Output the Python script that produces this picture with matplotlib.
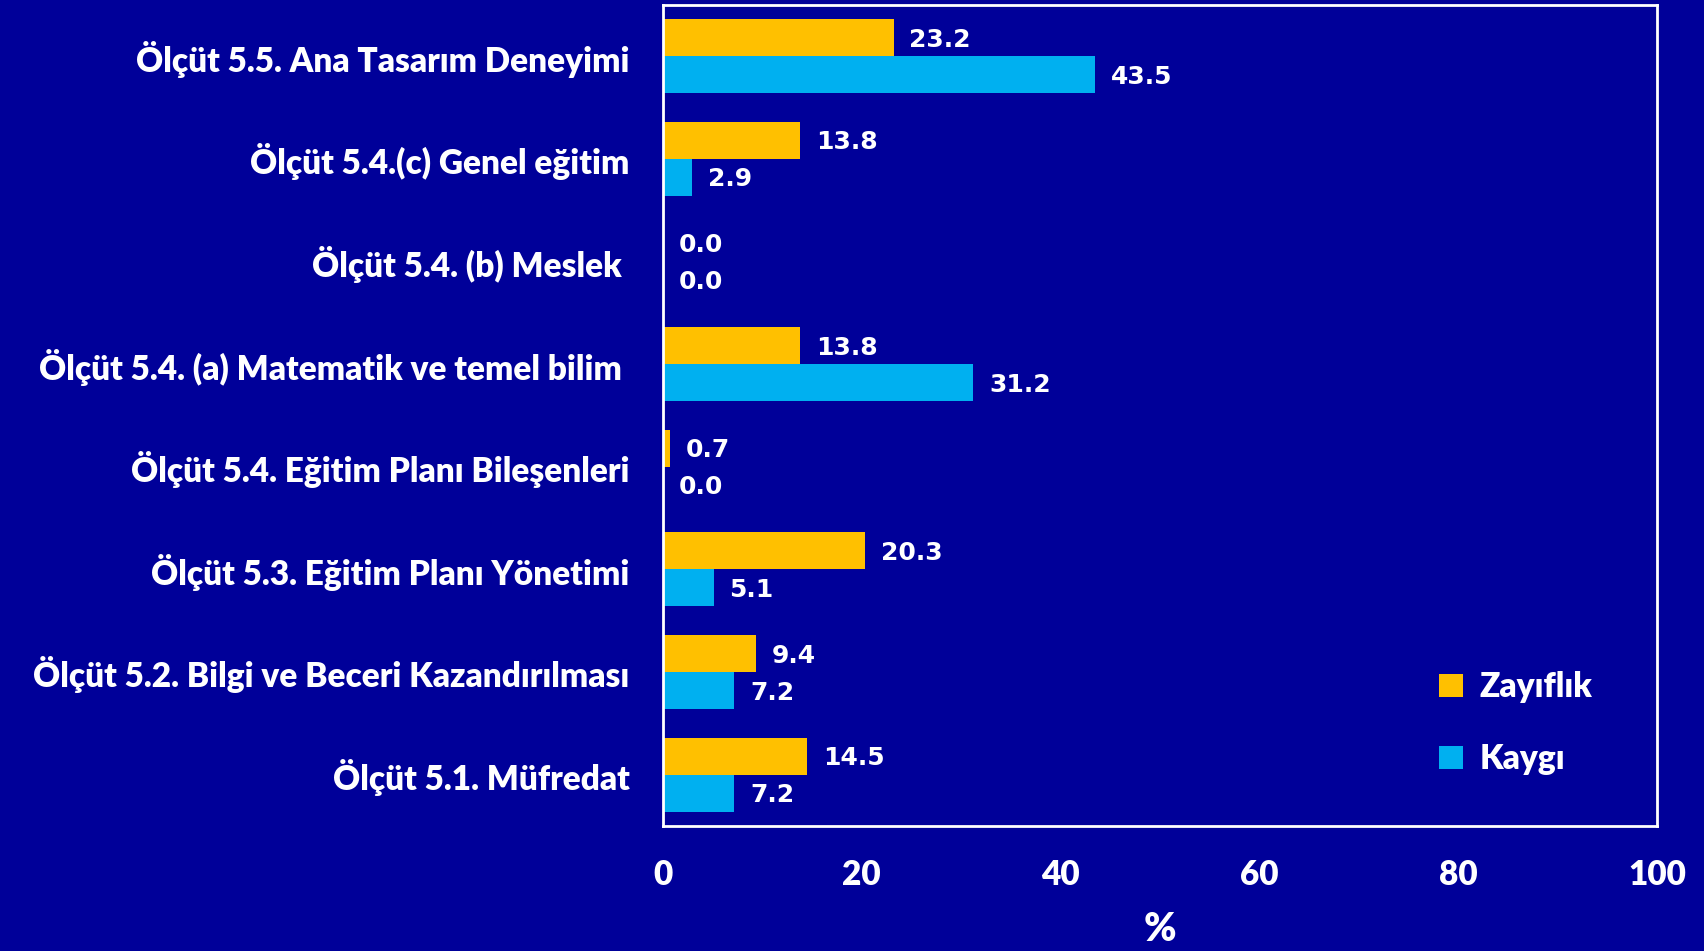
import numpy as np
import matplotlib.pyplot as plt

# Veriler
kategoriler = ['Ölçüt 5.1. Müfredat',
               'Ölçüt 5.2. Bilgi ve Beceri Kazandırılması',
               'Ölçüt 5.3. Eğitim Planı Yönetimi',
               'Ölçüt 5.4. Eğitim Planı Bileşenleri',
               'Ölçüt 5.4. (a) Matematik ve temel bilim ',
               'Ölçüt 5.4. (b) Meslek ',
               'Ölçüt 5.4.(c) Genel eğitim',
               'Ölçüt 5.5. Ana Tasarım Deneyimi']
zayiflik = [14.5, 9.4, 20.3, 0.7, 13.8, 0.0, 13.8, 23.2]
kaygi = [7.2, 7.2, 5.1, 0.0, 31.2, 0.0, 2.9, 43.5]
x_ticks = [0, 20, 40, 60, 80, 100]

bg = '#000099'
turuncu = '#FFC000'
mavi = '#00B0F0'

fig = plt.figure(figsize=(17.04, 9.51), dpi=100, facecolor=bg)
ax = fig.add_axes([0.389, 0.1315, 0.5835, 0.8635], facecolor=bg)

y = np.arange(len(kategoriler))
h = 0.36
ax.barh(y + h / 2, zayiflik, height=h, color=turuncu, label='Zayıflık')
ax.barh(y - h / 2, kaygi, height=h, color=mavi, label='Kaygı')

# Değer etiketleri
for i in range(len(kategoriler)):
    ax.text(zayiflik[i] + 1.6, y[i] + h / 2 - 0.02, f'{zayiflik[i]:.1f}', color='white',
            fontsize=18, fontweight='bold', va='center', ha='left', family='DejaVu Sans')
    ax.text(kaygi[i] + 1.6, y[i] - h / 2 - 0.02, f'{kaygi[i]:.1f}', color='white',
            fontsize=18, fontweight='bold', va='center', ha='left', family='DejaVu Sans')

yazi = dict(fontsize=24, fontweight='heavy', color='white', family='Lato')

ax.set_xlim(0, 100)
ax.set_ylim(-0.5, 7.5)
ax.set_xticks(x_ticks, labels=[str(v) for v in x_ticks], **yazi)
ax.set_yticks(y, labels=kategoriler, **yazi)
ax.tick_params(length=0)
ax.tick_params(axis='x', pad=24)
ax.tick_params(axis='y', pad=24)
for s in ax.spines.values():
    s.set_color('white')
    s.set_linewidth(2)

ax.set_xlabel('%', labelpad=14, fontsize=28, fontweight='heavy', color='white', family='Lato')

leg = ax.legend(loc='lower right', bbox_to_anchor=(0.965, 0.025), frameon=False,
                prop={'family': 'Lato', 'weight': 'heavy', 'size': 24},
                handlelength=0.7, handleheight=0.7, labelspacing=1.2, handletextpad=0.5)
for t in leg.get_texts():
    t.set_color('white')

fig.savefig('out.png', dpi=100, facecolor=bg)
